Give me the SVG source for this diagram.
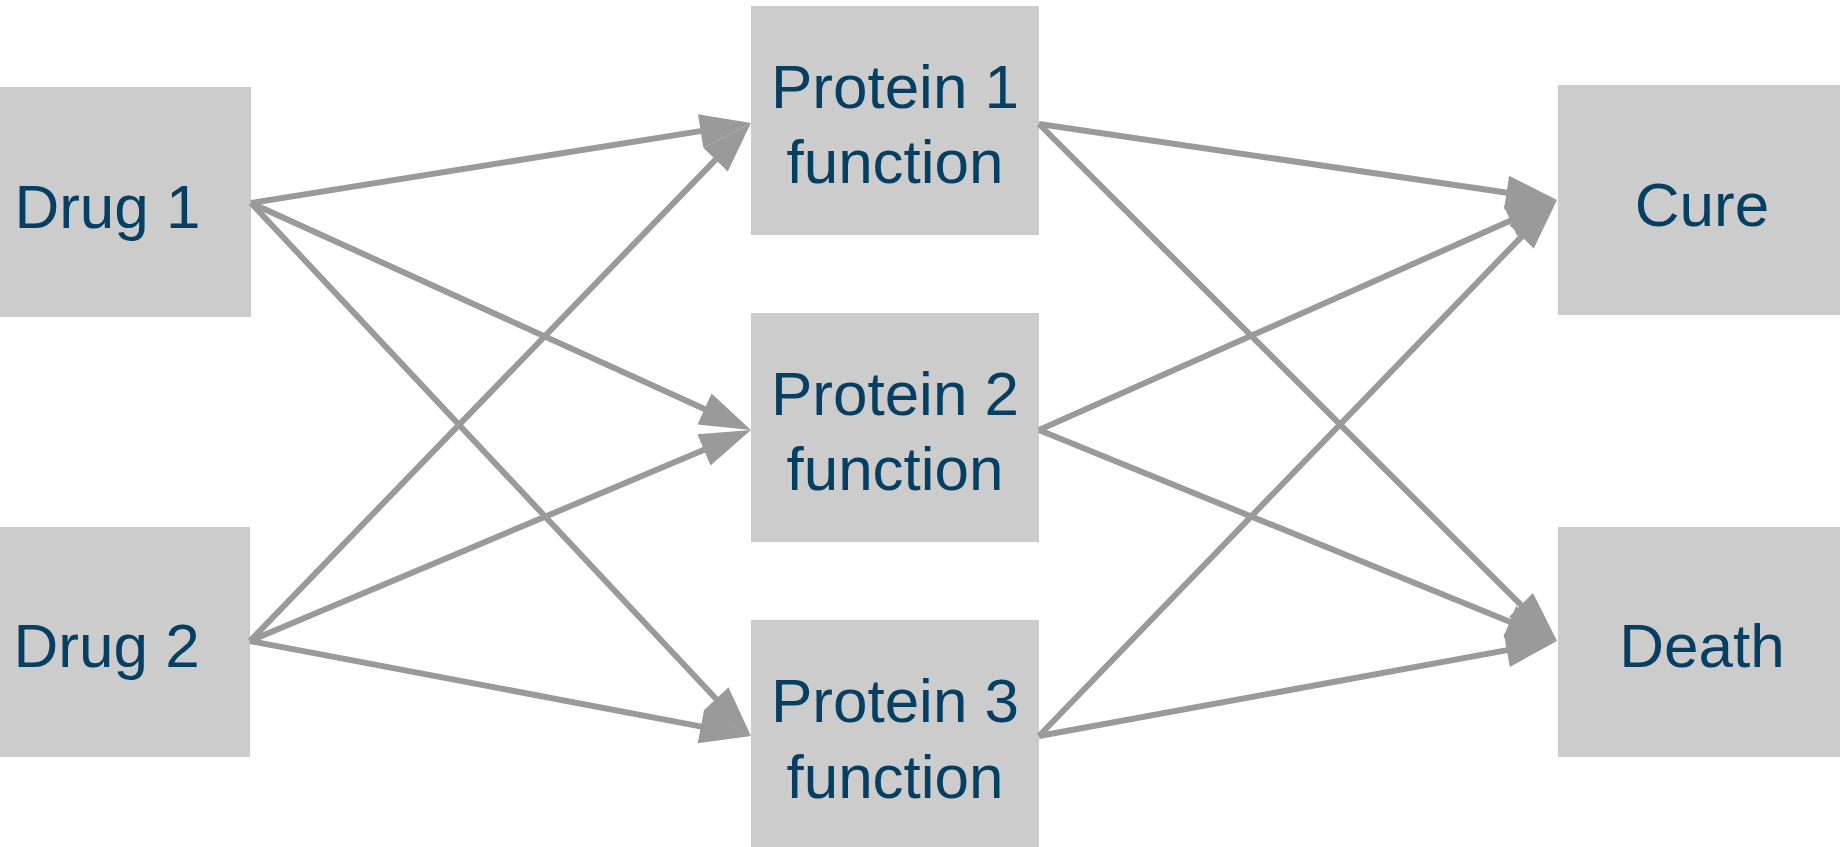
<svg xmlns="http://www.w3.org/2000/svg" width="1840" height="847" viewBox="0 0 1840 847">
<style>
.box{fill:#cccccc}
.lbl{font-family:"Liberation Sans",Arial,sans-serif;font-size:62px;fill:#063f61;text-anchor:middle}
.edge{stroke:#9a9a9a;stroke-width:6;fill:none;marker-end:url(#ah)}
</style>
<defs>
<marker id="ah" markerUnits="userSpaceOnUse" markerWidth="51" markerHeight="34" refX="6" refY="17" orient="auto" overflow="visible">
<path d="M0,0 L51,17 L0,34 Z" fill="#9a9a9a"/>
</marker>
</defs>
<rect width="1840" height="847" fill="#ffffff"/>
<g id="drug1"><rect class="box" x="-37" y="87" width="288" height="230"/><text class="lbl" x="107.5" y="228">Drug 1</text></g>
<g id="drug2"><rect class="box" x="-38" y="527" width="288" height="230"/><text class="lbl" x="106.6" y="667">Drug 2</text></g>
<g id="protein1"><rect class="box" x="751" y="6" width="288" height="229"/><text class="lbl" x="895" y="108">Protein 1</text><text class="lbl" x="895" y="183">function</text></g>
<g id="protein2"><rect class="box" x="751" y="313" width="288" height="229"/><text class="lbl" x="895" y="415">Protein 2</text><text class="lbl" x="895" y="490">function</text></g>
<g id="protein3"><rect class="box" x="751" y="620" width="288" height="229"/><text class="lbl" x="895" y="722">Protein 3</text><text class="lbl" x="895" y="798">function</text></g>
<g id="cure"><rect class="box" x="1558" y="85" width="288" height="230"/><text class="lbl" x="1702" y="226">Cure</text></g>
<g id="death"><rect class="box" x="1558" y="527" width="288" height="230"/><text class="lbl" x="1702" y="667">Death</text></g>
<g id="connectors">
<path class="edge" d="M251,203 L706.6,130.1"/>
<path class="edge" d="M251,203 L710.0,411.4"/>
<path class="edge" d="M251,203 L720.2,703.2"/>
<path class="edge" d="M250,641 L719.7,155.3"/>
<path class="edge" d="M250,641 L709.5,447.5"/>
<path class="edge" d="M250,641 L706.8,727.6"/>
<path class="edge" d="M1039,124 L1512.5,193.5"/>
<path class="edge" d="M1039,124 L1525.2,609.2"/>
<path class="edge" d="M1039,430 L1515.9,218.3"/>
<path class="edge" d="M1039,430 L1515.3,624.0"/>
<path class="edge" d="M1039,736 L1525.7,232.4"/>
<path class="edge" d="M1039,736 L1512.7,649.1"/>
</g>
</svg>
